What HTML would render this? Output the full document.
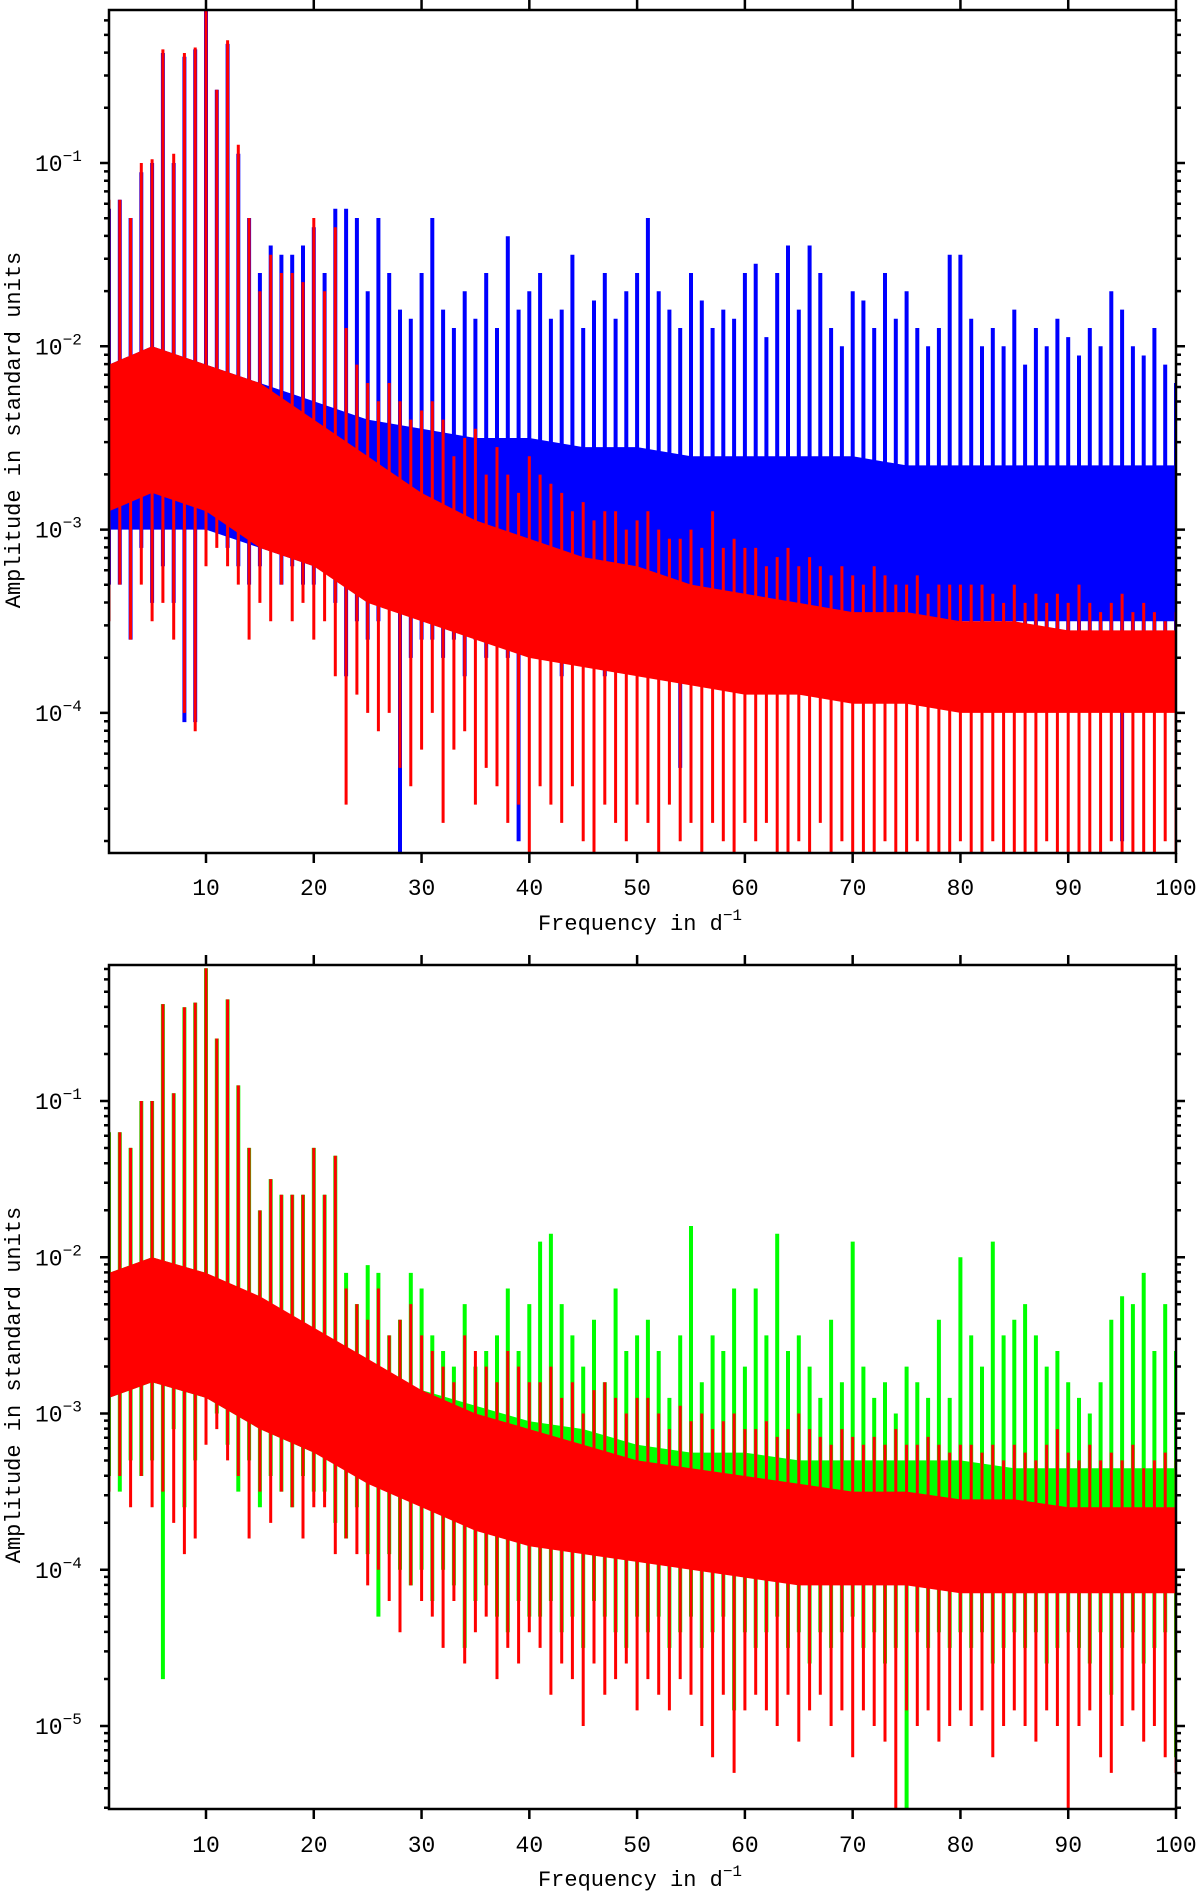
<!DOCTYPE html>
<html><head><meta charset="utf-8">
<style>
html,body{margin:0;padding:0;background:#fff;}
svg{display:block;}
text{font-family:"Liberation Mono","DejaVu Sans Mono",monospace;fill:#000;}
</style></head>
<body>
<svg id="chart" width="1200" height="1893" viewBox="0 0 1200 1893" xmlns="http://www.w3.org/2000/svg">
<defs>
<clipPath id="clipTop"><rect x="109" y="10" width="1067" height="843"/></clipPath>
<clipPath id="clipBot"><rect x="109" y="965" width="1067" height="844"/></clipPath>
</defs>
<g id="topPlot"></g>
<g id="botPlot"></g>
</svg>
<script>
// ---- data (log10 amplitude) ----
const freqs = Array.from({length:100},(_, i)=>i+1);
const bodyFreq = [1,5,10,15,20,25,30,35,40,45,50,55,60,65,70,75,80,85,90,95,100];

const bluePeak = [-1.25,-1.2,-1.3,-1.05,-1.0,-0.4,-1.0,-0.42,-0.38,-0.17,
-0.6,-0.35,-0.95,-1.3,-1.6,-1.45,-1.5,-1.5,-1.45,-1.35,
-1.6,-1.25,-1.25,-1.3,-1.7,-1.3,-1.6,-1.8,-1.85,-1.6,
-1.3,-1.8,-1.9,-1.7,-1.85,-1.6,-1.9,-1.4,-1.8,-1.7,
-1.6,-1.85,-1.8,-1.5,-1.9,-1.75,-1.6,-1.85,-1.7,-1.6,
-1.3,-1.7,-1.8,-1.9,-1.6,-1.75,-1.9,-1.8,-1.85,-1.6,
-1.55,-1.95,-1.6,-1.45,-1.8,-1.45,-1.6,-1.9,-2.0,-1.7,
-1.75,-1.9,-1.6,-1.85,-1.7,-1.9,-2.0,-1.9,-1.5,-1.5,
-1.85,-2.0,-1.9,-2.0,-1.8,-2.1,-1.9,-2.0,-1.85,-1.95,
-2.05,-1.9,-2.0,-1.7,-1.8,-2.0,-2.05,-1.9,-2.1,-2.2];
const blueTrough = [-3.3,-3.3,-3.6,-3.1,-3.4,-3.2,-3.4,-4.05,-4.05,-3.0,
-2.9,-3.1,-3.2,-3.3,-3.2,-3.1,-3.3,-3.2,-3.3,-3.3,
-3.2,-3.4,-3.8,-3.5,-3.6,-3.5,-3.4,-4.8,-3.7,-3.6,
-3.6,-3.7,-3.6,-3.8,-3.6,-3.7,-3.6,-3.7,-4.7,-3.6,
-3.7,-3.6,-3.8,-3.7,-3.6,-3.7,-3.8,-3.6,-3.7,-3.6,
-3.7,-3.8,-3.6,-4.3,-3.7,-3.6,-3.7,-3.8,-3.7,-3.6,
-3.8,-3.7,-3.6,-3.7,-3.6,-3.8,-3.7,-3.6,-3.7,-3.8,
-3.6,-3.7,-3.8,-3.6,-3.7,-3.6,-3.7,-3.8,-3.6,-3.7,
-3.7,-3.6,-3.8,-3.7,-3.6,-3.7,-3.8,-3.6,-3.7,-3.6,
-3.7,-3.8,-3.6,-3.7,-4.7,-3.6,-3.8,-3.7,-3.6,-3.7];
const blueBodyHi = [-2.1,-2.0,-2.1,-2.2,-2.3,-2.4,-2.45,-2.5,-2.5,-2.55,-2.55,-2.6,-2.6,-2.6,-2.6,-2.65,-2.65,-2.65,-2.65,-2.65,-2.65];
const blueBodyLo = [-3.0,-3.0,-3.0,-3.1,-3.2,-3.3,-3.3,-3.35,-3.4,-3.4,-3.4,-3.45,-3.45,-3.45,-3.5,-3.5,-3.5,-3.5,-3.5,-3.5,-3.5];

const redTopPeak = [-1.2,-1.2,-1.3,-1.0,-0.98,-0.38,-0.95,-0.4,-0.37,-0.15,
-0.6,-0.33,-0.9,-1.3,-1.7,-1.5,-1.6,-1.6,-1.65,-1.3,
-1.7,-1.35,-1.9,-2.1,-2.2,-2.3,-2.2,-2.3,-2.4,-2.35,
-2.3,-2.4,-2.6,-2.5,-2.45,-2.7,-2.55,-2.7,-2.8,-2.6,
-2.7,-2.75,-2.8,-2.9,-2.85,-2.95,-2.9,-2.9,-3.0,-2.95,
-2.9,-3.0,-3.05,-3.05,-3.0,-3.1,-2.9,-3.1,-3.05,-3.1,
-3.1,-3.2,-3.15,-3.1,-3.2,-3.15,-3.2,-3.25,-3.2,-3.25,
-3.3,-3.2,-3.25,-3.3,-3.3,-3.25,-3.35,-3.3,-3.3,-3.3,
-3.3,-3.3,-3.35,-3.4,-3.3,-3.4,-3.35,-3.4,-3.35,-3.4,
-3.3,-3.4,-3.45,-3.4,-3.35,-3.45,-3.4,-3.45,-3.5,-3.45];
const redTopTrough = [-3.5,-3.3,-3.6,-3.3,-3.5,-3.4,-3.6,-4.0,-4.1,-3.2,
-3.1,-3.2,-3.3,-3.6,-3.4,-3.5,-3.3,-3.5,-3.4,-3.6,
-3.5,-3.8,-4.5,-3.9,-4.0,-4.1,-4.0,-4.3,-4.4,-4.2,
-4.0,-4.6,-4.2,-4.1,-4.5,-4.3,-4.4,-4.6,-4.5,-4.9,
-4.4,-4.5,-4.6,-4.4,-4.7,-4.9,-4.5,-4.6,-4.7,-4.5,
-4.6,-4.8,-4.5,-4.7,-4.6,-4.9,-4.6,-4.7,-4.8,-4.6,
-4.7,-4.6,-4.8,-4.9,-4.7,-4.8,-4.6,-4.9,-4.7,-4.8,
-4.8,-4.9,-4.7,-4.8,-4.9,-4.7,-4.8,-4.9,-4.8,-4.7,
-4.9,-4.8,-4.7,-4.9,-4.8,-4.9,-4.8,-4.7,-4.9,-4.8,
-4.8,-4.9,-4.8,-4.7,-4.9,-4.8,-4.8,-4.9,-4.7,-4.8];
const redTopBodyHi = [-2.1,-2.0,-2.1,-2.2,-2.4,-2.6,-2.8,-2.95,-3.05,-3.15,-3.2,-3.3,-3.35,-3.4,-3.45,-3.45,-3.5,-3.5,-3.55,-3.55,-3.55];
const redTopBodyLo = [-2.9,-2.8,-2.9,-3.1,-3.2,-3.4,-3.5,-3.6,-3.7,-3.75,-3.8,-3.85,-3.9,-3.9,-3.95,-3.95,-4.0,-4.0,-4.0,-4.0,-4.0];

const greenPeak = [-1.2,-1.2,-1.3,-1.0,-1.0,-0.38,-0.95,-0.4,-0.37,-0.15,
-0.6,-0.35,-0.9,-1.3,-1.7,-1.5,-1.6,-1.6,-1.6,-1.3,
-1.6,-1.35,-2.1,-2.3,-2.05,-2.1,-2.5,-2.4,-2.1,-2.2,
-2.5,-2.6,-2.7,-2.3,-2.7,-2.6,-2.5,-2.2,-2.6,-2.3,
-1.9,-1.85,-2.3,-2.5,-2.7,-2.4,-2.8,-2.2,-2.6,-2.5,
-2.4,-2.6,-2.9,-2.5,-1.8,-2.8,-2.5,-2.6,-2.2,-2.7,
-2.2,-2.5,-1.85,-2.6,-2.5,-2.7,-2.9,-2.4,-2.8,-1.9,
-2.7,-2.9,-2.8,-3.0,-2.7,-2.8,-2.9,-2.4,-2.9,-2.0,
-2.5,-2.7,-1.9,-2.5,-2.4,-2.3,-2.5,-2.7,-2.6,-2.8,
-2.9,-3.0,-2.8,-2.4,-2.25,-2.3,-2.1,-2.6,-2.3,-2.6];
const greenTrough = [-3.4,-3.5,-3.3,-3.4,-3.3,-4.7,-3.1,-3.6,-3.3,-2.8,
-3.0,-3.2,-3.5,-3.3,-3.6,-3.4,-3.5,-3.6,-3.4,-3.5,
-3.5,-3.7,-3.8,-3.6,-3.9,-4.3,-3.9,-4.0,-4.1,-4.0,
-4.2,-4.0,-4.1,-4.5,-4.2,-4.1,-4.3,-4.4,-4.2,-4.3,
-4.3,-4.2,-4.4,-4.3,-4.5,-4.2,-4.3,-4.4,-4.5,-4.3,
-4.4,-4.3,-4.5,-4.4,-4.3,-4.5,-4.4,-4.3,-4.9,-4.4,
-4.5,-4.4,-4.3,-4.5,-4.4,-4.6,-4.4,-4.5,-4.4,-4.3,
-4.5,-4.4,-4.6,-4.5,-5.6,-4.4,-4.5,-4.4,-4.5,-4.4,
-4.5,-4.4,-4.6,-4.5,-4.4,-4.5,-4.4,-4.6,-4.5,-4.4,
-4.5,-4.6,-4.4,-4.8,-4.5,-4.4,-4.6,-4.5,-4.4,-5.2];
const greenBodyHi = [-2.1,-2.0,-2.1,-2.3,-2.5,-2.7,-2.85,-2.95,-3.05,-3.1,-3.2,-3.25,-3.25,-3.3,-3.3,-3.3,-3.3,-3.35,-3.35,-3.35,-3.35];
const greenBodyLo = [-2.9,-2.8,-2.9,-3.1,-3.25,-3.4,-3.55,-3.7,-3.8,-3.85,-3.9,-3.95,-3.95,-4.0,-4.0,-4.0,-4.0,-4.0,-4.0,-4.0,-4.0];

const redBotPeak = [-1.2,-1.2,-1.3,-1.0,-1.0,-0.38,-0.95,-0.4,-0.37,-0.15,
-0.6,-0.35,-0.9,-1.3,-1.7,-1.5,-1.6,-1.6,-1.6,-1.3,
-1.6,-1.35,-2.2,-2.3,-2.4,-2.2,-2.5,-2.4,-2.3,-2.5,
-2.6,-2.7,-2.8,-2.5,-2.6,-2.7,-2.8,-2.6,-2.7,-2.8,
-2.8,-2.7,-2.9,-2.8,-3.0,-2.85,-2.8,-2.9,-3.0,-2.9,
-2.9,-3.0,-3.1,-2.95,-3.05,-3.0,-3.1,-3.05,-3.0,-3.1,
-3.1,-3.05,-3.15,-3.1,-3.0,-3.1,-3.15,-3.2,-3.1,-3.15,
-3.2,-3.15,-3.2,-3.1,-3.2,-3.2,-3.15,-3.2,-3.25,-3.2,
-3.2,-3.25,-3.2,-3.3,-3.2,-3.25,-3.3,-3.2,-3.1,-3.25,
-3.3,-3.2,-3.3,-3.25,-3.3,-3.2,-3.35,-3.3,-3.25,-3.3];
const redBotTrough = [-3.5,-3.4,-3.6,-3.4,-3.6,-3.5,-3.7,-3.9,-3.8,-3.2,
-3.1,-3.3,-3.4,-3.8,-3.5,-3.7,-3.5,-3.6,-3.8,-3.6,
-3.6,-3.9,-3.8,-3.9,-4.1,-4.0,-4.2,-4.4,-4.1,-4.2,
-4.3,-4.5,-4.2,-4.6,-4.4,-4.3,-4.7,-4.5,-4.6,-4.4,
-4.5,-4.8,-4.6,-4.7,-5.0,-4.6,-4.8,-4.7,-4.6,-4.9,
-4.7,-4.8,-4.9,-4.7,-4.8,-5.0,-5.2,-4.8,-5.3,-4.9,
-4.8,-4.9,-5.0,-4.8,-5.1,-4.9,-4.8,-5.0,-4.9,-5.2,
-4.9,-5.0,-5.1,-5.6,-4.9,-5.0,-4.9,-5.1,-5.0,-4.9,
-5.0,-4.9,-5.2,-5.0,-4.9,-5.0,-5.1,-4.9,-5.0,-5.6,
-5.0,-4.9,-5.2,-5.3,-5.0,-4.9,-5.1,-5.0,-5.2,-5.3];
const redBotBodyHi = [-2.1,-2.0,-2.1,-2.25,-2.45,-2.65,-2.85,-3.0,-3.1,-3.2,-3.3,-3.35,-3.4,-3.45,-3.5,-3.5,-3.55,-3.55,-3.6,-3.6,-3.6];
const redBotBodyLo = [-2.9,-2.8,-2.9,-3.1,-3.25,-3.45,-3.6,-3.75,-3.85,-3.9,-3.95,-4.0,-4.05,-4.1,-4.1,-4.1,-4.15,-4.15,-4.15,-4.15,-4.15];

const xTicks = [10,20,30,40,50,60,70,80,90,100];
const topDecades = [-1,-2,-3,-4];
const botDecades = [-1,-2,-3,-4,-5];

// ---- geometry ----
const NS = "http://www.w3.org/2000/svg";
const X0 = 109, X1 = 1176, FMIN = 1, FMAX = 100;
const fx = f => X0 + (f - FMIN) * (X1 - X0) / (FMAX - FMIN);
const panels = {
  top: {g: document.getElementById('topPlot'), y0: 10, y1: 853, refY: 163, dec: 183.3, clip: 'clipTop', decades: topDecades, lmin: -4.77, lmax: -0.16, ylabY: 430, xlabY: 930, tickLabY: 895},
  bot: {g: document.getElementById('botPlot'), y0: 965, y1: 1809, refY: 1101, dec: 156.25, clip: 'clipBot', decades: botDecades, lmin: -5.53, lmax: -0.12, ylabY: 1385, xlabY: 1886, tickLabY: 1852}
};
function yOf(p, l) { return p.refY - p.dec * (l + 1); }

function mk(tag, attrs, parent) {
  const e = document.createElementNS(NS, tag);
  for (const k in attrs) e.setAttribute(k, attrs[k]);
  parent.appendChild(e);
  return e;
}

function drawSeries(p, name, color, width, bodyHi, bodyLo, peak, trough) {
  const g = mk('g', {'clip-path': 'url(#' + p.clip + ')'}, p.g);
  
  
  let pts = bodyFreq.map((f, i) => fx(f) + ',' + yOf(p, bodyHi[i]).toFixed(1));
  for (let i = bodyFreq.length - 1; i >= 0; i--) pts.push(fx(bodyFreq[i]) + ',' + yOf(p, bodyLo[i]).toFixed(1));
  const body = mk('polygon', {points: pts.join(' '), fill: color}, g);
  
  
  let d = '';
  freqs.forEach((f, i) => {
    const x = fx(f).toFixed(1);
    d += 'M' + x + ' ' + yOf(p, trough[i]).toFixed(1) + 'V' + yOf(p, peak[i]).toFixed(1);
  });
  const sp = mk('path', {d: d, stroke: color, 'stroke-width': width, fill: 'none'}, g);
  
  
}

function drawAxes(p) {
  const g = mk('g', {}, p.g);
  
  
  const fr = mk('rect', {x: X0, y: p.y0, width: X1 - X0, height: p.y1 - p.y0, fill: 'none', stroke: '#000', 'stroke-width': 2.5}, g);
  
  
  let d = '';
  xTicks.forEach(t => {
    const x = fx(t);
    d += 'M' + x + ' ' + p.y1 + 'v10M' + x + ' ' + p.y0 + 'v-10';
    const tl = mk('text', {x: x, y: p.tickLabY, 'font-size': 23, 'text-anchor': 'middle'}, g);
    
    
    tl.textContent = String(t);
  });
  for (let e = Math.floor(p.lmin); e <= 0; e++) {
    for (let m = 1; m <= 9; m++) {
      const l = e + Math.log10(m);
      if (l < p.lmin || l > p.lmax) continue;
      const y = yOf(p, l).toFixed(1);
      const len = m === 1 ? 9 : 5;
      d += 'M' + X0 + ' ' + y + 'h-' + len + 'M' + X1 + ' ' + y + 'h' + len;
    }
  }
  const tk = mk('path', {d: d, stroke: '#000', 'stroke-width': 2.5, fill: 'none'}, g);
  
  
  p.decades.forEach(e => {
    const y = yOf(p, e);
    const t = mk('text', {x: 35, y: y + 8, 'font-size': 23}, g);
    
    
    t.textContent = '10';
    const s = mk('tspan', {dy: -10, 'font-size': 16}, t);
    s.textContent = String(e).replace('-', '\u2212');
  });
  const yl = mk('text', {x: 20, y: p.ylabY, 'font-size': 22, 'text-anchor': 'middle', transform: 'rotate(-90 20 ' + p.ylabY + ')'}, g);
  
  
  yl.textContent = 'Amplitude in standard units';
  const xl = mk('text', {x: 640, y: p.xlabY, 'font-size': 22, 'text-anchor': 'middle'}, g);
  
  
  xl.textContent = 'Frequency in d';
  const xs = mk('tspan', {dy: -10, 'font-size': 16}, xl);
  xs.textContent = '\u22121';
}

const T = panels.top, B = panels.bot;
drawSeries(T, 'blue-spectrum', '#0000ff', 4, blueBodyHi, blueBodyLo, bluePeak, blueTrough);
drawSeries(T, 'red-spectrum-top', '#ff0000', 3, redTopBodyHi, redTopBodyLo, redTopPeak, redTopTrough);
drawAxes(T);
drawSeries(B, 'green-spectrum', '#00ff00', 4, greenBodyHi, greenBodyLo, greenPeak, greenTrough);
drawSeries(B, 'red-spectrum-bottom', '#ff0000', 3, redBotBodyHi, redBotBodyLo, redBotPeak, redBotTrough);
drawAxes(B);
</script>
</body></html>
